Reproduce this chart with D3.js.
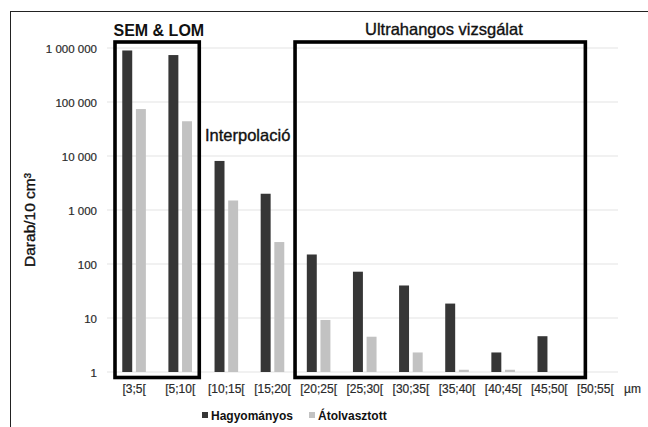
<!DOCTYPE html>
<html>
<head>
<meta charset="utf-8">
<script src="https://cdn.jsdelivr.net/npm/d3@7"></script>
<style>
  html, body { margin: 0; padding: 0; background: #fff; }
  svg { display: block; font-family: "Liberation Sans", Arial, sans-serif; }
</style>
</head>
<body>
<svg id="chart" width="648" height="427"></svg>
<script>
// ---- data ----
const categories = ["[3;5[", "[5;10[", "[10;15[", "[15;20[", "[20;25[", "[25;30[", "[30;35[", "[35;40[", "[40;45[", "[45;50[", "[50;55["];
const seriesNames = ["Hagyományos", "Átolvasztott"];
const hagyomanyos = [900000, 740000, 8100, 2000, 150, 72, 40, 18.5, 2.3, 4.6, null];
const atolvasztott = [74000, 44000, 1500, 255, 9.2, 4.5, 2.3, 1.1, 1.1, null, null];
const yTicks = [1, 10, 100, 1000, 10000, 100000, 1000000];
const unitLabel = "µm";
const yTitle = "Darab/10 cm³";
const groupLabels = ["SEM & LOM", "Interpolació", "Ultrahangos vizsgálat"];

const colors = { "Hagyományos": "#363636", "Átolvasztott": "#c2c2c2" };

const svg = d3.select("#chart");

// outer frame
svg.append("rect")
  .attr("x", 10.5).attr("y", 11.5)
  .attr("width", 700).attr("height", 500)
  .attr("fill", "none").attr("stroke", "#222").attr("stroke-width", 1);

const x = d3.scaleBand().domain(categories).range([111, 618.5]).padding(0);
const x1 = d3.scaleBand().domain(seriesNames).range([-11.8, 11.8]).paddingInner(0.27);
const y = d3.scaleLog().domain([1, 1000000]).range([372, 48]);

const fmt = v => d3.format(",")(v).replace(/,/g, " ");
const heavy = (sel, w) => sel.attr("stroke", "currentColor").attr("stroke-width", w);

// gridlines
svg.append("g").selectAll("line").data(yTicks).join("line")
  .attr("x1", 107).attr("x2", 618)
  .attr("y1", d => y(d)).attr("y2", d => y(d))
  .attr("stroke", "#e4e4e4").attr("stroke-width", 1.2);

// y axis labels via d3 axis
const yAxis = d3.axisLeft(y).tickValues(yTicks).tickFormat(fmt).tickSize(0).tickPadding(0);
const gy = svg.append("g").attr("transform", "translate(97,0)").call(yAxis);
gy.select(".domain").remove();
gy.selectAll("text")
  .attr("font-size", 11.5).attr("fill", "#2a2a2a").style("color", "#2a2a2a")
  .attr("font-family", "Liberation Sans, Arial, sans-serif")
  .attr("dy", "0.35em").call(heavy, 0.2);

// x axis labels
const xAxis = d3.axisBottom(x).tickSize(0).tickPadding(0);
const gx = svg.append("g").attr("transform", "translate(0,384)").call(xAxis);
gx.select(".domain").remove();
gx.selectAll("text")
  .attr("font-size", 12).attr("fill", "#2a2a2a").style("color", "#2a2a2a")
  .attr("font-family", "Liberation Sans, Arial, sans-serif")
  .attr("dy", "0.71em").call(heavy, 0.2);

svg.append("text")
  .attr("x", 624).attr("y", 393)
  .attr("font-size", 12).attr("fill", "#2a2a2a").style("color", "#2a2a2a")
  .call(heavy, 0.2)
  .text(unitLabel);

// bars
const rows = categories.map((c, i) => ({ cat: c, vals: [
  { s: seriesNames[0], v: hagyomanyos[i] },
  { s: seriesNames[1], v: atolvasztott[i] }
]}));

const groups = svg.append("g").selectAll("g").data(rows).join("g")
  .attr("transform", d => `translate(${x(d.cat) + x.bandwidth() / 2},0)`);

groups.selectAll("rect").data(d => d.vals.filter(e => e.v != null)).join("rect")
  .attr("x", d => x1(d.s))
  .attr("width", x1.bandwidth())
  .attr("y", d => y(d.v))
  .attr("height", d => Math.max(0, y(1) - y(d.v)))
  .attr("fill", d => colors[d.s]);

// annotation boxes
const boxTop = y(1000000) - 6;
const boxBottom = y(1) + 5.5;
const boxStyle = sel => sel.attr("fill", "none").attr("stroke", "#000").attr("stroke-width", 3.6);

const b1l = x(categories[0]) + 4, b1r = x(categories[1]) + x.bandwidth() - 4;
svg.append("rect").attr("x", b1l).attr("y", boxTop)
  .attr("width", b1r - b1l).attr("height", boxBottom - boxTop).call(boxStyle);

const b2l = x(categories[4]) - 0.5, b2r = x(categories[10]) + 13;
svg.append("rect").attr("x", b2l).attr("y", boxTop)
  .attr("width", b2r - b2l).attr("height", boxBottom - boxTop).call(boxStyle);

// group labels
svg.append("text").attr("x", 113.5).attr("y", 35.5)
  .attr("font-size", 16).attr("font-weight", "bold").attr("fill", "#111")
  .text(groupLabels[0]);

svg.append("text").attr("x", 205).attr("y", 140.5)
  .attr("font-size", 16.5).attr("fill", "#111").style("color", "#111")
  .call(heavy, 0.35)
  .text(groupLabels[1]);

svg.append("text").attr("x", 365).attr("y", 34.5)
  .attr("font-size", 16.5).attr("fill", "#111").style("color", "#111")
  .call(heavy, 0.35)
  .text(groupLabels[2]);

// y title
svg.append("text")
  .attr("transform", "translate(34.5,220) rotate(-90)")
  .attr("text-anchor", "middle")
  .attr("font-size", 15.5).attr("fill", "#111").style("color", "#111")
  .call(heavy, 0.35)
  .text(yTitle);

// legend
const legendItems = [
  { s: seriesNames[0], x: 202 },
  { s: seriesNames[1], x: 309 }
];
const lg = svg.append("g").selectAll("g").data(legendItems).join("g")
  .attr("transform", d => `translate(${d.x},0)`);
lg.append("rect").attr("x", 0).attr("y", 412).attr("width", 6).attr("height", 6)
  .attr("fill", d => colors[d.s]);
lg.append("text").attr("x", 9).attr("y", 419.5)
  .attr("font-size", 12).attr("font-weight", "bold").attr("fill", "#111")
  .text(d => d.s);
</script>
</body>
</html>
